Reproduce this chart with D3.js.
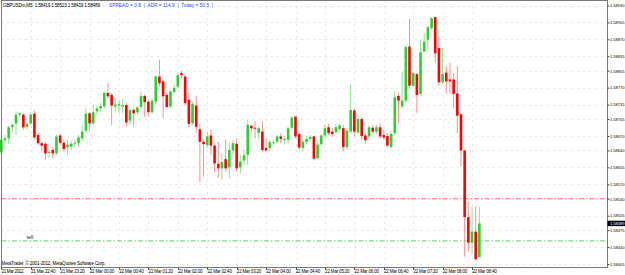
<!DOCTYPE html>
<html>
<head>
<meta charset="utf-8">
<script src="https://cdnjs.cloudflare.com/ajax/libs/d3/7.8.5/d3.min.js"></script>
<style>
	body { margin: 0; background: #fff; }
	svg { display: block; font-family: 'Liberation Sans', Arial, sans-serif; }
</style>
</head>
<body>
<script>
const svgWidth = 625; //Width of SVG.
const svgHeight = 275; //Height of SVG.

const plotLeft = 1.5; //Chart frame.
const plotRight = 607.5;
const plotTop = 0.5;
const plotBottom = 267.5;

//GBPUSDm M5 bars, 21 Mar 22:00 -> 22 Mar 08:50
const opens = [
	1.58636, 1.58661, 1.58665, 1.58688, 1.58696, 1.58714, 1.58714, 1.58689, 1.58696, 1.58716,
	1.58672, 1.58655, 1.58654, 1.58636, 1.58641, 1.58634, 1.58671, 1.58656, 1.58647, 1.58648,
	1.58654, 1.58655, 1.58665, 1.58681, 1.58717, 1.58696, 1.58721, 1.58727, 1.58731, 1.58759,
	1.58755, 1.58731, 1.58733, 1.58731, 1.58734, 1.58702, 1.58724, 1.58719, 1.58730, 1.58753,
	1.58741, 1.58719, 1.58741, 1.58793, 1.58783, 1.58755, 1.58731, 1.58761, 1.58772, 1.58800,
	1.58793, 1.58745, 1.58696, 1.58733, 1.58684, 1.58658, 1.58651, 1.58671, 1.58650, 1.58612,
	1.58603, 1.58622, 1.58605, 1.58640, 1.58654, 1.58605, 1.58619, 1.58631, 1.58691, 1.58687,
	1.58676, 1.58679, 1.58645, 1.58645, 1.58655, 1.58658, 1.58669, 1.58662, 1.58662, 1.58687,
	1.58710, 1.58674, 1.58645, 1.58657, 1.58664, 1.58669, 1.58624, 1.58653, 1.58671, 1.58688,
	1.58679, 1.58678, 1.58684, 1.58686, 1.58647, 1.58679, 1.58723, 1.58677, 1.58705, 1.58671,
	1.58669, 1.58687, 1.58679, 1.58688, 1.58672, 1.58670, 1.58647, 1.58676, 1.58753, 1.58731,
	1.58743, 1.58855, 1.58774, 1.58798, 1.58757, 1.58845, 1.58869, 1.58893, 1.58916, 1.58852,
	1.58781, 1.58801, 1.58787, 1.58787, 1.58758, 1.58715, 1.58640, 1.58502, 1.58449, 1.58472,
	1.58419
];
const highs = [
	1.58670, 1.58672, 1.58691, 1.58696, 1.58721, 1.58719, 1.58717, 1.58698, 1.58719, 1.58723,
	1.58676, 1.58658, 1.58658, 1.58641, 1.58648, 1.58672, 1.58674, 1.58663, 1.58662, 1.58660,
	1.58662, 1.58672, 1.58693, 1.58727, 1.58719, 1.58734, 1.58732, 1.58738, 1.58762, 1.58781,
	1.58759, 1.58748, 1.58745, 1.58748, 1.58738, 1.58727, 1.58727, 1.58732, 1.58762, 1.58755,
	1.58745, 1.58748, 1.58796, 1.58828, 1.58786, 1.58759, 1.58765, 1.58776, 1.58800, 1.58805,
	1.58796, 1.58760, 1.58741, 1.58753, 1.58695, 1.58663, 1.58679, 1.58683, 1.58655, 1.58658,
	1.58634, 1.58662, 1.58656, 1.58662, 1.58665, 1.58631, 1.58641, 1.58703, 1.58693, 1.58700,
	1.58689, 1.58700, 1.58665, 1.58662, 1.58662, 1.58672, 1.58676, 1.58669, 1.58689, 1.58711,
	1.58711, 1.58677, 1.58662, 1.58669, 1.58672, 1.58670, 1.58658, 1.58674, 1.58693, 1.58696,
	1.58686, 1.58696, 1.58696, 1.58693, 1.58686, 1.58778, 1.58727, 1.58714, 1.58709, 1.58677,
	1.58693, 1.58693, 1.58693, 1.58696, 1.58683, 1.58676, 1.58679, 1.58762, 1.58759, 1.58803,
	1.58859, 1.58912, 1.58803, 1.58801, 1.58869, 1.58883, 1.58898, 1.58916, 1.58917, 1.58876,
	1.58852, 1.58814, 1.58821, 1.58800, 1.58814, 1.58717, 1.58641, 1.58534, 1.58524, 1.58525,
	1.58523
];
const lows = [
	1.58631, 1.58655, 1.58654, 1.58676, 1.58672, 1.58709, 1.58683, 1.58684, 1.58693, 1.58663,
	1.58652, 1.58638, 1.58621, 1.58624, 1.58624, 1.58631, 1.58652, 1.58638, 1.58631, 1.58641,
	1.58648, 1.58648, 1.58658, 1.58676, 1.58681, 1.58693, 1.58714, 1.58721, 1.58727, 1.58748,
	1.58693, 1.58721, 1.58717, 1.58717, 1.58689, 1.58693, 1.58689, 1.58714, 1.58725, 1.58709,
	1.58710, 1.58716, 1.58736, 1.58772, 1.58707, 1.58727, 1.58727, 1.58759, 1.58769, 1.58790,
	1.58734, 1.58688, 1.58693, 1.58677, 1.58574, 1.58586, 1.58645, 1.58631, 1.58596, 1.58583,
	1.58579, 1.58596, 1.58583, 1.58631, 1.58596, 1.58593, 1.58610, 1.58610, 1.58679, 1.58665,
	1.58662, 1.58638, 1.58638, 1.58638, 1.58652, 1.58655, 1.58655, 1.58652, 1.58654, 1.58683,
	1.58665, 1.58641, 1.58638, 1.58652, 1.58658, 1.58621, 1.58621, 1.58650, 1.58667, 1.58672,
	1.58669, 1.58676, 1.58679, 1.58638, 1.58641, 1.58676, 1.58669, 1.58674, 1.58662, 1.58654,
	1.58665, 1.58676, 1.58674, 1.58665, 1.58662, 1.58648, 1.58645, 1.58672, 1.58696, 1.58727,
	1.58738, 1.58769, 1.58771, 1.58718, 1.58755, 1.58843, 1.58850, 1.58890, 1.58822, 1.58774,
	1.58778, 1.58758, 1.58758, 1.58727, 1.58676, 1.58607, 1.58420, 1.58431, 1.58427, 1.58413,
	1.58419
];
const closes = [
	1.58662, 1.58665, 1.58688, 1.58693, 1.58714, 1.58717, 1.58688, 1.58695, 1.58714, 1.58667,
	1.58655, 1.58650, 1.58634, 1.58637, 1.58634, 1.58669, 1.58656, 1.58643, 1.58652, 1.58654,
	1.58656, 1.58667, 1.58679, 1.58716, 1.58696, 1.58719, 1.58727, 1.58732, 1.58759, 1.58752,
	1.58733, 1.58735, 1.58736, 1.58734, 1.58698, 1.58723, 1.58717, 1.58729, 1.58753, 1.58740,
	1.58719, 1.58743, 1.58793, 1.58779, 1.58752, 1.58730, 1.58762, 1.58769, 1.58796, 1.58796,
	1.58738, 1.58695, 1.58736, 1.58689, 1.58658, 1.58653, 1.58669, 1.58650, 1.58613, 1.58603,
	1.58616, 1.58603, 1.58641, 1.58655, 1.58603, 1.58617, 1.58630, 1.58693, 1.58686, 1.58685,
	1.58686, 1.58641, 1.58640, 1.58657, 1.58657, 1.58669, 1.58664, 1.58664, 1.58686, 1.58708,
	1.58669, 1.58646, 1.58658, 1.58664, 1.58668, 1.58623, 1.58652, 1.58671, 1.58686, 1.58676,
	1.58674, 1.58688, 1.58692, 1.58647, 1.58681, 1.58724, 1.58679, 1.58705, 1.58670, 1.58661,
	1.58688, 1.58679, 1.58688, 1.58669, 1.58667, 1.58650, 1.58674, 1.58750, 1.58743, 1.58743,
	1.58854, 1.58774, 1.58800, 1.58755, 1.58843, 1.58865, 1.58895, 1.58914, 1.58841, 1.58781,
	1.58798, 1.58783, 1.58783, 1.58757, 1.58712, 1.58640, 1.58502, 1.58449, 1.58472, 1.58415,
	1.58489
];

//Time axis labels, one every 8 bars (40 min).
const timeLabels = ['21 Mar 2012', '21 Mar 22:40', '21 Mar 23:20', '22 Mar 00:00', '22 Mar 00:40',
	'22 Mar 01:20', '22 Mar 02:00', '22 Mar 02:40', '22 Mar 03:20', '22 Mar 04:00', '22 Mar 04:40',
	'22 Mar 05:20', '22 Mar 06:00', '22 Mar 06:40', '22 Mar 07:20', '22 Mar 08:00', '22 Mar 08:40'];
const barsPerLabel = 8;

//Price axis labels.
const priceTicks = [1.58405, 1.58440, 1.58475, 1.58505, 1.58540, 1.58570, 1.58605, 1.58640, 1.58670,
	1.58705, 1.58735, 1.58770, 1.58805, 1.58835, 1.58870, 1.58905, 1.58940];

const redLevel = 1.58540; //Dash-dot lines.
const greenLevel = 1.58453;
const bidPrice = 1.58489;

const headerText = 'GBPUSDm,M5  1.58419 1.58523 1.58419 1.58489';
const infoText = 'SPREAD = 0.8  |  ADR = 114.9  |  Today = 50.5  |';
const copyrightText = 'MetaTrader, \u00a9 2001-2012, MetaQuotes Software Corp.';

const bullColour = '#32cd32';
const bearColour = '#ff0000';

const bars = opens.map((o, i) => ({ i: i, o: o, h: highs[i], l: lows[i], c: closes[i] }));

let xScale = d3.scaleLinear() //Bar index -> pixel.
	.domain([0, bars.length - 1])
	.range([1.3, 1.3 + 3.6775 * (bars.length - 1)]);

let yScale = d3.scaleLinear() //Price -> pixel.
	.domain([1.58405, 1.58940])
	.range([264, 5.5]);

let svg = d3.select('body')
	.append('svg')
	.attr('width', svgWidth)
	.attr('height', svgHeight);

svg.append('rect') //Background.
	.attr('width', svgWidth)
	.attr('height', svgHeight)
	.attr('fill', '#fff');

//Dotted grid.
svg.append('g')
	.selectAll('line')
	.data(priceTicks)
	.enter()
	.append('line')
	.attr('x1', plotLeft)
	.attr('x2', plotRight)
	.attr('y1', (d) => Math.round(yScale(d)) + 0.5)
	.attr('y2', (d) => Math.round(yScale(d)) + 0.5)
	.attr('stroke', '#cfcfcf')
	.attr('stroke-dasharray', '1,5');

svg.append('g')
	.selectAll('line')
	.data(timeLabels)
	.enter()
	.append('line')
	.attr('x1', (d, i) => Math.round(xScale(i * barsPerLabel)) + 0.5)
	.attr('x2', (d, i) => Math.round(xScale(i * barsPerLabel)) + 0.5)
	.attr('y1', plotTop)
	.attr('y2', plotBottom)
	.attr('stroke', '#cfcfcf')
	.attr('stroke-dasharray', '1,5');

//Order levels.
svg.append('line')
	.attr('x1', plotLeft)
	.attr('x2', plotRight)
	.attr('y1', yScale(redLevel))
	.attr('y2', yScale(redLevel))
	.attr('stroke', '#ff7070')
	.attr('stroke-width', 1.2)
	.attr('stroke-dasharray', '5,2,1.5,2');

svg.append('line')
	.attr('x1', plotLeft)
	.attr('x2', plotRight)
	.attr('y1', yScale(greenLevel))
	.attr('y2', yScale(greenLevel))
	.attr('stroke', '#86d886')
	.attr('stroke-width', 1.2)
	.attr('stroke-dasharray', '5,2,1.5,2');

svg.append('text')
	.attr('x', 26.5)
	.attr('y', yScale(greenLevel) - 2)
	.attr('font-size', 4.6)
	.attr('fill', '#222')
	.text('sell');

//Candles.
let candles = svg.append('g')
	.selectAll('g')
	.data(bars)
	.enter()
	.append('g');

candles.append('line') //Wick.
	.attr('x1', (d) => xScale(d.i))
	.attr('x2', (d) => xScale(d.i))
	.attr('y1', (d) => yScale(d.h))
	.attr('y2', (d) => yScale(d.l))
	.attr('stroke', (d) => d.c >= d.o ? '#93df93' : '#ff9090')
	.attr('stroke-width', 1);

candles.append('rect') //Body.
	.attr('x', (d) => xScale(d.i) - 1.3)
	.attr('y', (d) => yScale(Math.max(d.o, d.c)))
	.attr('width', 2.6)
	.attr('height', (d) => Math.max(1, yScale(Math.min(d.o, d.c)) - yScale(Math.max(d.o, d.c))))
	.attr('fill', (d) => d.c >= d.o ? bullColour : bearColour);

//Frame.
svg.append('rect')
	.attr('x', plotLeft)
	.attr('y', plotTop)
	.attr('width', plotRight - plotLeft)
	.attr('height', plotBottom - plotTop)
	.attr('fill', 'none')
	.attr('stroke', '#7a7a7a')
	.attr('stroke-width', 1);

//Price axis.
let yAxis = d3.axisRight(yScale)
	.tickValues(priceTicks)
	.tickFormat(d3.format('.5f'))
	.tickSize(2)
	.tickPadding(0.5);

let yAxisG = svg.append('g')
	.attr('transform', 'translate(' + plotRight + ',0)')
	.call(yAxis);
yAxisG.select('.domain').remove();
yAxisG.selectAll('line').attr('stroke', '#444');
yAxisG.selectAll('text')
	.attr('font-size', 4)
	.attr('font-family', "'Liberation Sans', Arial, sans-serif")
	.attr('fill', '#000');

//Bid price box.
svg.append('rect')
	.attr('x', plotRight)
	.attr('y', yScale(bidPrice) - 2.7)
	.attr('width', svgWidth - plotRight)
	.attr('height', 5.4)
	.attr('fill', '#000');

svg.append('text')
	.attr('x', plotRight + 2.5)
	.attr('y', yScale(bidPrice))
	.attr('dy', '0.35em')
	.attr('font-size', 4)
	.attr('fill', '#fff')
	.text(d3.format('.5f')(bidPrice));

//Time axis.
let timeAxis = svg.append('g');

timeAxis.selectAll('line')
	.data(timeLabels)
	.enter()
	.append('line')
	.attr('x1', (d, i) => Math.round(xScale(i * barsPerLabel)) + 0.5)
	.attr('x2', (d, i) => Math.round(xScale(i * barsPerLabel)) + 0.5)
	.attr('y1', plotBottom)
	.attr('y2', plotBottom + 2)
	.attr('stroke', '#444');

timeAxis.selectAll('text')
	.data(timeLabels)
	.enter()
	.append('text')
	.attr('x', (d, i) => Math.max(1, xScale(i * barsPerLabel) + 0.2))
	.attr('y', 272.5)
	.attr('font-size', 4.5)
	.attr('fill', '#000')
	.attr('textLength', (d, i) => i === 0 ? 22 : 24.5)
	.text((d) => d);

//Header and copyright.
svg.append('text')
	.attr('x', 3)
	.attr('y', 7)
	.attr('font-size', 4.7)
	.attr('fill', '#000')
	.attr('textLength', 97)
	.style('white-space', 'pre')
	.text(headerText);

svg.append('text')
	.attr('x', 109)
	.attr('y', 7)
	.attr('font-size', 4.7)
	.attr('fill', '#1f4cff')
	.attr('textLength', 104)
	.style('white-space', 'pre')
	.text(infoText);

svg.append('text')
	.attr('x', 1.5)
	.attr('y', 265.2)
	.attr('font-size', 4.6)
	.attr('fill', '#000')
	.attr('textLength', 104)
	.text(copyrightText);
</script>
</body>
</html>
